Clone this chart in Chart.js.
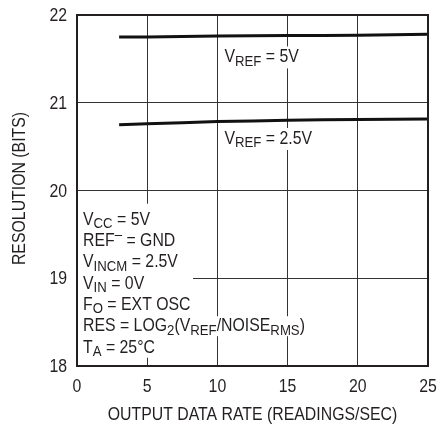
<!DOCTYPE html>
<html>
<head>
<meta charset="utf-8">
<script src="https://cdn.jsdelivr.net/npm/chart.js@4"></script>
<style>
  html, body { margin: 0; padding: 0; background: #fff; }
  #wrap { width: 438px; height: 435px; }
</style>
</head>
<body>
<div id="wrap"><canvas id="resChart" width="438" height="435"></canvas></div>
<script>
// data
const rates = [3, 5, 10, 15, 20, 25];
const res5V = [21.75, 21.75, 21.76, 21.765, 21.77, 21.78];
const res2p5V = [20.75, 20.76, 20.785, 20.80, 20.81, 20.815];
const xTicks = [0, 5, 10, 15, 20, 25];
const yTicks = [18, 19, 20, 21, 22];
const xTitle = 'OUTPUT DATA RATE (READINGS/SEC)';
const yTitle = 'RESOLUTION (BITS)';

const FONT = '"Liberation Sans", Arial, sans-serif';
const INK = '#231f20';
const SX = 0.88;   // squeeze text horizontally, the original uses a narrow face

// label text pieces: plain / sub / sup
const curveLabels = [
    { x: 10.5, y: 21.46, parts: [['V'], ['REF', 'sub'], [' = 5V']] },
    { x: 10.5, y: 20.53, parts: [['V'], ['REF', 'sub'], [' = 2.5V']] }
];
const conditions = [
    [['V'], ['CC', 'sub'], [' = 5V']],
    [['REF'], ['\u2013', 'sup'], [' = GND']],
    [['V'], ['INCM', 'sub'], [' = 2.5V']],
    [['V'], ['IN', 'sub'], [' = 0V']],
    [['F'], ['O', 'sub'], [' = EXT OSC']],
    [['RES = LOG'], ['2', 'sub'], ['(V'], ['REF', 'sub'], ['/NOISE'], ['RMS', 'sub'], [')']],
    [['T'], ['A', 'sub'], [' = 25\u00b0C']]
];

function partFont(kind) {
    return (kind ? '15px ' : '18px ') + FONT;
}

function textWidth(ctx, parts) {
    let w = 0;
    parts.forEach(p => { ctx.font = partFont(p[1]); w += ctx.measureText(p[0]).width; });
    return w * SX;
}

// draws a run of pieces with its left end at x, baseline at y
function drawParts(ctx, parts, x, y) {
    ctx.save();
    ctx.translate(x, y);
    ctx.scale(SX, 1);
    ctx.fillStyle = INK;
    ctx.textBaseline = 'alphabetic';
    ctx.textAlign = 'left';
    let cx = 0;
    parts.forEach(p => {
        ctx.font = partFont(p[1]);
        let dy = 0;
        if (p[1] === 'sub') dy = 3.5;
        if (p[1] === 'sup') dy = -7;
        ctx.fillText(p[0], cx, dy);
        cx += ctx.measureText(p[0]).width;
    });
    ctx.restore();
}

function drawPlain(ctx, text, x, y, align, rot) {
    ctx.save();
    ctx.translate(x, y);
    if (rot) ctx.rotate(rot);
    ctx.scale(SX, 1);
    ctx.font = '18px ' + FONT;
    ctx.fillStyle = INK;
    ctx.textAlign = align;
    ctx.textBaseline = 'alphabetic';
    ctx.fillText(text, 0, 0);
    ctx.restore();
}

const labelsPlugin = {
    id: 'labels',
    beforeDatasetsDraw(chart) {
        const ctx = chart.ctx;
        const xs = chart.scales.x, ys = chart.scales.y;
        const area = chart.chartArea;
        ctx.save();
        // curve labels
        curveLabels.forEach(l => {
            const px = xs.getPixelForValue(l.x), py = ys.getPixelForValue(l.y);
            const w = textWidth(ctx, l.parts);
            ctx.fillStyle = '#fff';
            ctx.fillRect(px - 3, py - 16, w + 6, 22);
            drawParts(ctx, l.parts, px, py);
        });
        // conditions block
        const x0 = area.left + 6;
        const y0 = ys.getPixelForValue(19.61);
        const lh = 21.3;
        ctx.fillStyle = '#fff';
        ctx.fillRect(area.left + 1, y0 - 21, 115, lh * 6 + 26);
        conditions.forEach((c, i) => {
            const w = textWidth(ctx, c);
            ctx.fillStyle = '#fff';
            ctx.fillRect(x0 - 2, y0 + i * lh - 15, w + 5, 20);
        });
        conditions.forEach((c, i) => drawParts(ctx, c, x0, y0 + i * lh));
        ctx.restore();
    },
    afterDraw(chart) {
        const ctx = chart.ctx, a = chart.chartArea;
        const xs = chart.scales.x, ys = chart.scales.y;
        ctx.save();
        ctx.strokeStyle = INK;
        ctx.lineWidth = 2;
        ctx.strokeRect(a.left, a.top, a.right - a.left, a.bottom - a.top);
        ctx.restore();
        // tick labels and titles
        xTicks.forEach(v => drawPlain(ctx, String(v), xs.getPixelForValue(v), a.bottom + 25.5, 'center'));
        yTicks.forEach(v => drawPlain(ctx, String(v), a.left - 10, ys.getPixelForValue(v) + 6, 'right'));
        drawPlain(ctx, xTitle, (a.left + a.right) / 2, a.bottom + 53.5, 'center');
        drawPlain(ctx, yTitle, 25, (a.top + a.bottom) / 2 - 2, 'center', -Math.PI / 2);
    }
};

new Chart(document.getElementById('resChart').getContext('2d'), {
    type: 'line',
    data: {
        datasets: [
            {
                label: 'VREF = 5V',
                data: rates.map((r, i) => ({ x: r, y: res5V[i] })),
                borderColor: '#111',
                borderWidth: 3,
                pointRadius: 0,
                tension: 0.3
            },
            {
                label: 'VREF = 2.5V',
                data: rates.map((r, i) => ({ x: r, y: res2p5V[i] })),
                borderColor: '#111',
                borderWidth: 3,
                pointRadius: 0,
                tension: 0.3
            }
        ]
    },
    options: {
        responsive: false,
        animation: false,
        devicePixelRatio: 1,
        layout: { padding: { top: 15, right: 10, left: 0, bottom: 0 } },
        plugins: {
            legend: { display: false },
            tooltip: { enabled: false }
        },
        scales: {
            x: {
                type: 'linear',
                min: 0,
                max: 25,
                afterBuildTicks(axis) { axis.ticks = xTicks.map(v => ({ value: v })); },
                afterFit(axis) { axis.height = 69; },
                grid: { color: '#333', lineWidth: 1, drawTicks: false },
                border: { display: false },
                ticks: { display: false }
            },
            y: {
                type: 'linear',
                min: 18,
                max: 22,
                afterBuildTicks(axis) { axis.ticks = yTicks.map(v => ({ value: v })); },
                afterFit(axis) { axis.width = 77; },
                grid: { color: '#333', lineWidth: 1, drawTicks: false },
                border: { display: false },
                ticks: { display: false }
            }
        }
    },
    plugins: [labelsPlugin]
});
</script>
</body>
</html>
